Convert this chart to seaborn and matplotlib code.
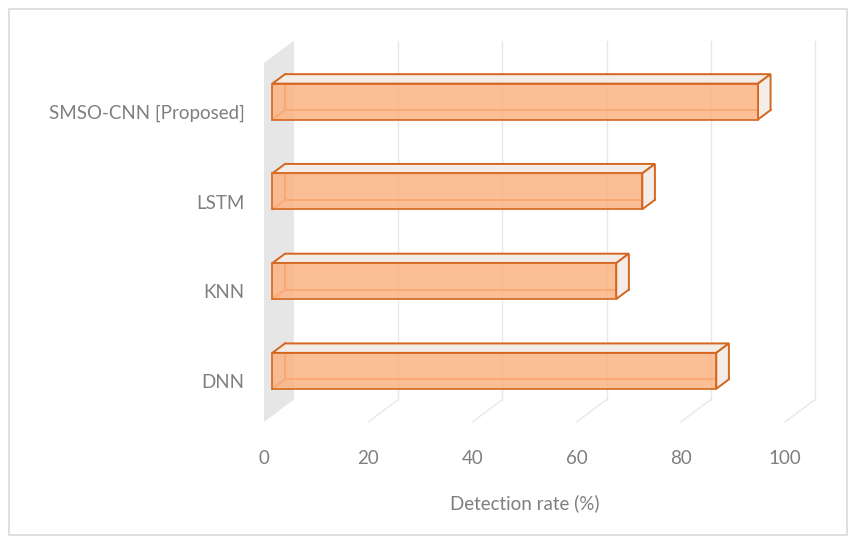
import numpy as np
import pandas as pd
import matplotlib
matplotlib.use("Agg")
import matplotlib.pyplot as plt
import seaborn as sns
from matplotlib.patches import Polygon, Rectangle
from matplotlib.transforms import ScaledTranslation

# ---- data ----
methods = ["SMSO-CNN [Proposed]", "LSTM", "KNN", "DNN"]
detection_rate = [93.2, 71.0, 66.0, 85.2]
x_ticks = [0, 20, 40, 60, 80, 100]
x_label = "Detection rate (%)"

df = pd.DataFrame({"method": methods, "rate": detection_rate})

sns.set_theme(style="white")
plt.rcParams["font.family"] = ["Lato", "DejaVu Sans"]

W, H = 856, 544
fig = plt.figure(figsize=(W / 100, H / 100), dpi=100)
# front plane of the 3D box
left_px, right_px, top_px, bot_px = 264, 785, 63, 422
ax = fig.add_axes([left_px / W, (H - bot_px) / H, (right_px - left_px) / W, (bot_px - top_px) / H])

sns.barplot(data=df, x="rate", y="method", orient="h", width=0.40,
            color="#FBB47F", ax=ax, zorder=5)
bars = list(ax.patches)
ax.set_xlim(0, 100)
ax.set_ylim(3.5, -0.5)
for s in ax.spines.values():
    s.set_visible(False)
ax.grid(False)

DX, DY = 30.0, 22.5   # full depth offset in pixels (mpl y up)
D_FRONT, D_BACK = 0.28, 0.70


def P(x, y, d):
    px = ax.transData.transform((x, y)) + np.array([DX * d, DY * d])
    return ax.transData.inverted().transform(px)


grid_col = "#E8E8E8"
# side wall at x=0
wall = Polygon([P(0, 3.5, 0), P(0, 3.5, 1), P(0, -0.5, 1), P(0, -0.5, 0)],
               closed=True, facecolor="#E6E6E6", edgecolor="none", clip_on=False, zorder=0)
ax.add_patch(wall)
for xv in x_ticks[1:]:
    a, b = P(xv, 3.5, 1), P(xv, -0.5, 1)
    ax.plot([a[0], b[0]], [a[1], b[1]], color=grid_col, lw=1, clip_on=False, zorder=0)
    a, b = P(xv, 3.5, 0), P(xv, 3.5, 1)
    ax.plot([a[0], b[0]], [a[1], b[1]], color=grid_col, lw=1, clip_on=False, zorder=0)

edge = "#D4661F"
top_col = "#F3ECE7"
for bar in bars:
    x0, y0 = bar.get_x(), bar.get_y()
    x1, y1 = x0 + bar.get_width(), y0 + bar.get_height()
    yt, yb = min(y0, y1), max(y0, y1)
    f = D_FRONT
    b = D_BACK
    # hidden edges
    for (pa, pb) in [((x0, yb, b), (x1, yb, b)), ((x0, yt, b), (x0, yb, b)),
                     ((x0, yb, f), (x0, yb, b))]:
        A, B = P(*pa), P(*pb)
        ax.plot([A[0], B[0]], [A[1], B[1]], color="#E2732E", lw=1.4, clip_on=False, zorder=3)
    # top face
    ax.add_patch(Polygon([P(x0, yt, f), P(x0, yt, b), P(x1, yt, b), P(x1, yt, f)],
                         closed=True, facecolor=top_col, edgecolor=edge, lw=1.4,
                         clip_on=False, zorder=4))
    # right face
    ax.add_patch(Polygon([P(x1, yt, f), P(x1, yt, b), P(x1, yb, b), P(x1, yb, f)],
                         closed=True, facecolor=top_col, edgecolor=edge, lw=1.4,
                         clip_on=False, zorder=4))
    # front face: move seaborn bar to depth f
    bar.set_transform(ax.transData + ScaledTranslation(DX * f / 100, DY * f / 100, fig.dpi_scale_trans))
    bar.set_facecolor("#FCB382")
    bar.set_alpha(0.85)
    bar.set_edgecolor(edge)
    bar.set_linewidth(1.4)
    bar.set_clip_on(False)
    bar.set_zorder(5)

txt_col = "#7F7F7F"
fs = 13.5
ax.set_xticks(x_ticks)
ax.set_xticklabels([str(t) for t in x_ticks])
ax.tick_params(axis="x", length=0, pad=20, labelsize=fs, labelcolor=txt_col)
ax.tick_params(axis="y", length=0, pad=14, labelsize=fs, labelcolor=txt_col)
for lab in ax.get_yticklabels():
    lab.set_transform(lab.get_transform() + ScaledTranslation(0, -4 / 100, fig.dpi_scale_trans))
ax.set_ylabel("")
ax.set_xlabel(x_label, fontsize=fs, color=txt_col, labelpad=20)

fig.patches.append(Rectangle((9 / W, 9 / H), (847 - 9) / W, (535 - 9) / H,
                             transform=fig.transFigure, facecolor="none",
                             edgecolor="#D9D9D9", lw=1.2))

fig.savefig("out.png", dpi=100)
